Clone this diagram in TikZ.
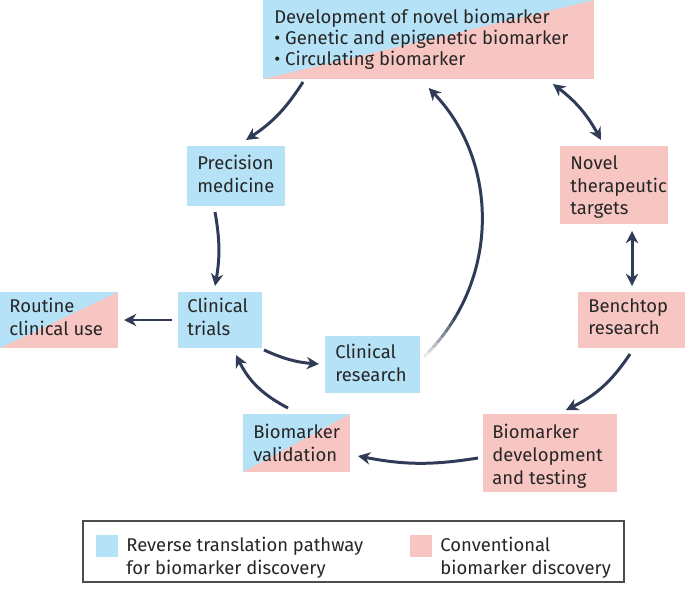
\documentclass[tikz,border=0pt]{standalone}
\usepackage{fontspec}
\setmainfont{Fira Sans}
\usetikzlibrary{arrows.meta}
\definecolor{revblue}{HTML}{B5E2F6}
\definecolor{convpink}{HTML}{F8C6C2}
\definecolor{arrowc}{HTML}{2F3B57}
\tikzset{
  lbl/.style={align=left,anchor=north west,inner sep=0pt,font=\fontsize{10.5}{13}\selectfont,text=black!85},
  flow/.style={arrowc,line width=1.7pt,-{Stealth[length=7pt,width=7pt]}},
  both/.style={arrowc,line width=1.7pt,{Stealth[length=7pt,width=7pt]}-{Stealth[length=7pt,width=7pt]}}
}
\begin{document}
\begin{tikzpicture}[x=0.02cm,y=-0.02cm]
 \useasboundingbox (0,0) rectangle (685,588);

    % Boxes
    \fill[convpink] (263,0) rectangle (594,79);
    \fill[revblue] (263,0) -- (594,0) -- (263,79) -- cycle;
    \fill[revblue] (187,146) rectangle (285,206);
    \fill[convpink] (560,146) rectangle (668,224);
    \fill[convpink] (0,292) rectangle (118,348);
    \fill[revblue] (0,292) -- (118,292) -- (0,348) -- cycle;
    \fill[revblue] (178,292) rectangle (262,348);
    \fill[convpink] (578,292) rectangle (685,348);
    \fill[revblue] (325,336) rectangle (420,393);
    \fill[convpink] (243,414) rectangle (350,472);
    \fill[revblue] (243,414) -- (350,414) -- (243,472) -- cycle;
    \fill[convpink] (483,414) rectangle (617,492);

    % Labels
    \node[lbl] (dev) at (274,9) {Development of novel biomarker\\[-1pt]
      \textbullet\ Genetic and epigenetic biomarker\\[-1pt]
      \textbullet\ Circulating biomarker};
    \node[lbl] (prec) at (197,155) {Precision\\medicine};
    \node[lbl] (novel) at (570,155) {Novel\\therapeutic\\targets};
    \node[lbl] (routine) at (9,298) {Routine\\clinical use};
    \node[lbl] (trials) at (187,298) {Clinical\\trials};
    \node[lbl] (bench) at (588,298) {Benchtop\\research};
    \node[lbl] (cres) at (335,344) {Clinical\\research};
    \node[lbl] (valid) at (253,424) {Biomarker\\validation};
    \node[lbl] (bdev) at (492,424) {Biomarker\\development\\and testing};

    % Arrows
    \draw[flow] (303,82) to[bend left=12] (246,140);
    \draw[flow] (215,212) to[bend left=10] (215,286);
    \draw[flow] (172,320) -- (124,320);
    \draw[flow] (264,350) to[bend right=10] (319,364);
    \draw[flow] (288,408) to[bend left=18] (236,355);
    \draw[flow] (478,458) to[bend left=10] (358,456);
    \draw[flow] (630,354) to[bend left=15] (566,410);
    \draw[both] (632,231) -- (632,286);
    \draw[both] (553,84) to[bend left=12] (601,140);
    % big arc with faded tail
    \begin{scope}[shift={(292,220)}]
      \foreach \i in {0,...,7}{
        \pgfmathsetmacro\op{0.12*\i+0.1}
        \draw[arrowc,line width=1.7pt,opacity=\op] ({46-2*\i}:190) arc[start angle={46-2*\i},end angle={44-2*\i},radius=190];
      }
      \draw[flow] (30:190) arc[start angle=30,end angle=-44,radius=190];
    \end{scope}

    % Legend
    \draw[black!70,line width=0.6pt] (83,521) rectangle (624,582);
    \fill[revblue] (96,535) rectangle (118,557);
    \fill[convpink] (410,535) rectangle (432,557);
    \node[lbl] (legrev) at (126,537) {Reverse translation pathway\\for biomarker discovery};
    \node[lbl] (legconv) at (440,537) {Conventional\\biomarker discovery};
\end{tikzpicture}
\end{document}
